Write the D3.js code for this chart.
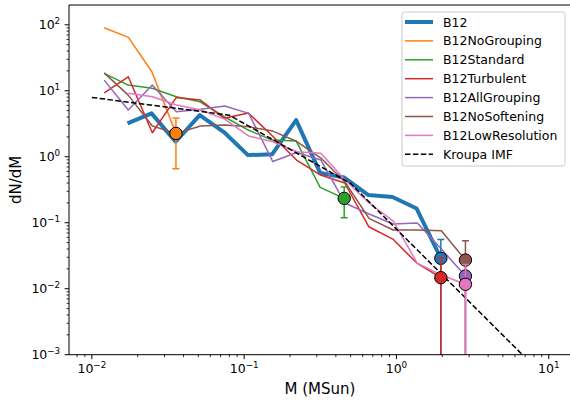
<!DOCTYPE html>
<html><head><meta charset="utf-8">
<script src="https://cdn.jsdelivr.net/npm/d3@7"></script>
<style>body{margin:0;background:#fff}svg{display:block;font-family:"DejaVu Sans",sans-serif}</style>
</head><body><svg id="c" width="570" height="401"></svg>
<script>
// ---- data ----
const seriesNames = ["B12","B12NoGrouping","B12Standard","B12Turbulent","B12AllGrouping","B12NoSoftening","B12LowResolution"];
const xB12 = [0.01714,0.02466,0.03549,0.05108,0.0736,0.1059,0.1525,0.2195,0.3160,0.4548,0.6546,0.9427,1.357,1.956];
const yB12 = [3.21,4.54,1.69,4.28,2.37,1.06,1.09,3.60,0.566,0.484,0.263,0.245,0.164,0.0289];
const xNoGrouping = [0.01205,0.01738,0.02477,0.03565];
const yNoGrouping = [90,64.4,19.4,2.26];
const xStandard = [0.01205,0.01734,0.02489,0.03581,0.0514,0.0740,0.1064,0.1528,0.2198,0.3155,0.4539];
const yStandard = [18.4,12.2,10.9,8.11,6.81,4.04,2.54,1.79,1.73,0.344,0.234];
const xTurbulent = [0.01205,0.01734,0.02495,0.03589,0.05164,0.0741,0.1067,0.1535,0.2208,0.3177,0.4571,0.6577,0.9462,1.361,1.957];
const yTurbulent = [9.33,16.3,2.31,7.94,7.23,3.82,4.59,2.06,0.891,0.528,0.400,0.0870,0.0566,0.0245,0.0147];
const xAllGrouping = [0.01205,0.01734,0.02495,0.03589,0.05176,0.0745,0.1072,0.1542,0.2218,0.3192,0.4592,0.6607,0.9506,1.371,1.972,2.838];
const yAllGrouping = [14.5,5.10,12.2,4.81,5.23,5.86,4.54,0.846,1.16,0.891,0.199,0.1355,0.0955,0.0989,0.040,0.01556];
const xNoSoftening = [0.01205,0.01734,0.02495,0.03589,0.05176,0.0745,0.1072,0.1542,0.2218,0.3192,0.4592,0.6607,0.9506,1.371,1.972,2.838];
const yNoSoftening = [18.7,8.6,2.92,2.26,2.92,3.02,2.85,2.45,1.70,0.956,0.414,0.1166,0.0775,0.0775,0.0756,0.0272];
const xLowResolution = [0.01738,0.02500,0.03597,0.05176,0.0745,0.1072,0.1542,0.2218,0.3192,0.4592,0.6622,0.9528,1.371,1.972,2.838];
const yLowResolution = [9.14,8.11,6.07,5.10,3.72,2.06,1.69,1.19,1.13,0.444,0.199,0.106,0.0243,0.0161,0.01166];
// error on the last (highest-mass) point of each series
const errHigh = [0.027,1.6,0.115,0.0147,0.01556,0.026,0.01166];
const errLow  = [0.0289,1.6,0.115,0.0147,0.01556,0.0272,0.01166];
const kroupaX = [0.01,0.08,0.5,10];
const kroupaY = [7.94,4.26,0.394,0.0004];
const kroupaName = "Kroupa IMF";
const xTicks = [0.01,0.1,1,10];
const yTicks = [1e-3,1e-2,1e-1,1,10,100];
const xLabel = "M (MSun)";
const yLabel = "dN/dM";

// ---- styles ----
const colors = ["#1f77b4","#ff7f0e","#2ca02c","#d62728","#9467bd","#8c564b","#e377c2"];
const widths = [4,1.5,1.5,1.5,1.5,1.5,1.5];
const xs = [xB12,xNoGrouping,xStandard,xTurbulent,xAllGrouping,xNoSoftening,xLowResolution];
const ys = [yB12,yNoGrouping,yStandard,yTurbulent,yAllGrouping,yNoSoftening,yLowResolution];

const L=69, R=571.6, T=5, B=354.7;
const x = d3.scaleLog().domain([Math.pow(10,-2.15),Math.pow(10,1.15)]).range([L,R]);
const y = d3.scaleLog().domain([1e-3,Math.pow(10,2.3)]).range([B,T]);
const svg = d3.select("#c");
svg.append("defs").append("clipPath").attr("id","clip").append("rect")
  .attr("x",L).attr("y",T).attr("width",R-L).attr("height",B-T);
const plot = svg.append("g").attr("clip-path","url(#clip)");
const line = d3.line().x(d=>x(d[0])).y(d=>y(d[1]));

xs.forEach((xa,i)=>{
  plot.append("path").datum(xa.map((v,j)=>[v,ys[i][j]]))
    .attr("d",line).attr("fill","none").attr("stroke",colors[i])
    .attr("stroke-width",widths[i]).attr("stroke-linejoin","round");
});
plot.append("path").datum(kroupaX.map((v,j)=>[v,kroupaY[j]]))
  .attr("d",line).attr("fill","none").attr("stroke","#000")
  .attr("stroke-width",1.5).attr("stroke-dasharray","5.5,2.4");

xs.forEach((xa,i)=>{
  const n=xa.length-1, xv=xa[n], yv=ys[i][n];
  const cx=x(xv), cy=y(yv);
  const top=y(yv+errHigh[i]);
  const lo=yv-errLow[i];
  const bot = lo>1e-9 ? y(lo) : B+5;
  const g=plot.append("g").attr("stroke",colors[i]).attr("stroke-width",1.5);
  g.append("line").attr("x1",cx).attr("x2",cx).attr("y1",top).attr("y2",bot);
  g.append("line").attr("x1",cx-3.5).attr("x2",cx+3.5).attr("y1",top).attr("y2",top);
  if(lo>1e-9) g.append("line").attr("x1",cx-3.5).attr("x2",cx+3.5).attr("y1",bot).attr("y2",bot);
  plot.append("circle").attr("cx",cx).attr("cy",cy).attr("r",6.2)
    .attr("fill",colors[i]).attr("stroke","#000").attr("stroke-width",1);
});

// axes
const ax = svg.append("g");
[[L,T,L,B],[L,T,R,T],[L,B,R,B],[R,T,R,B]].forEach(s=>
  ax.append("line").attr("x1",s[0]).attr("y1",s[1]).attr("x2",s[2]).attr("y2",s[3]).attr("stroke","#000").attr("stroke-width",1));

const fs=12.5;
function minorTicks(scale){
  const [a,b]=scale.domain(); const out=[];
  for(let e=Math.floor(Math.log10(a));e<=Math.ceil(Math.log10(b));e++)
    for(let k=2;k<=9;k++){const v=k*Math.pow(10,e); if(v>=a&&v<=b) out.push(v);}
  return out;
}
minorTicks(x).forEach(v=>ax.append("line").attr("x1",x(v)).attr("x2",x(v)).attr("y1",B).attr("y2",B+2.5).attr("stroke","#000").attr("stroke-width",0.8));
minorTicks(y).forEach(v=>ax.append("line").attr("y1",y(v)).attr("y2",y(v)).attr("x1",L).attr("x2",L-2.5).attr("stroke","#000").attr("stroke-width",0.8));
function expLabel(v){const e=Math.round(Math.log10(v)); return e<0?"\u2212"+(-e):String(e);}
xTicks.forEach(v=>{
  ax.append("line").attr("x1",x(v)).attr("x2",x(v)).attr("y1",B).attr("y2",B+4.4).attr("stroke","#000").attr("stroke-width",1);
  const t=ax.append("text").attr("x",x(v)).attr("y",B+18.5).attr("text-anchor","middle").attr("font-size",fs);
  t.append("tspan").text("10");
  t.append("tspan").attr("dy",-4.8).attr("font-size",fs*0.7).text(expLabel(v));
});
yTicks.forEach(v=>{
  ax.append("line").attr("y1",y(v)).attr("y2",y(v)).attr("x1",L).attr("x2",L-4.4).attr("stroke","#000").attr("stroke-width",1);
  const t=ax.append("text").attr("x",L-8.8).attr("y",y(v)+4.5).attr("text-anchor","end").attr("font-size",fs);
  t.append("tspan").text("10");
  t.append("tspan").attr("dy",-4.8).attr("font-size",fs*0.7).text(expLabel(v));
});
svg.append("text").attr("x",320).attr("y",394).attr("text-anchor","middle").attr("font-size",15).text(xLabel);
svg.append("text").attr("transform","translate(21,"+((T+B)/2)+") rotate(-90)").attr("text-anchor","middle").attr("font-size",15).text(yLabel);

// legend
const lg=svg.append("g");
lg.append("rect").attr("x",402).attr("y",12).attr("width",163).attr("height",154).attr("rx",2.5)
  .attr("fill","#fff").attr("fill-opacity",0.8).attr("stroke","#cccccc").attr("stroke-width",1);
const names=seriesNames.concat([kroupaName]);
names.forEach((nm,i)=>{
  const yy=22+i*18.9;
  const l=lg.append("line").attr("x1",405).attr("x2",433).attr("y1",yy).attr("y2",yy);
  if(i<seriesNames.length) l.attr("stroke",colors[i]).attr("stroke-width",widths[i]);
  else l.attr("stroke","#000").attr("stroke-width",1.5).attr("stroke-dasharray","5.5,2.4");
  lg.append("text").attr("x",443).attr("y",yy+4.5).attr("font-size",fs).text(nm);
});
</script></body></html>
